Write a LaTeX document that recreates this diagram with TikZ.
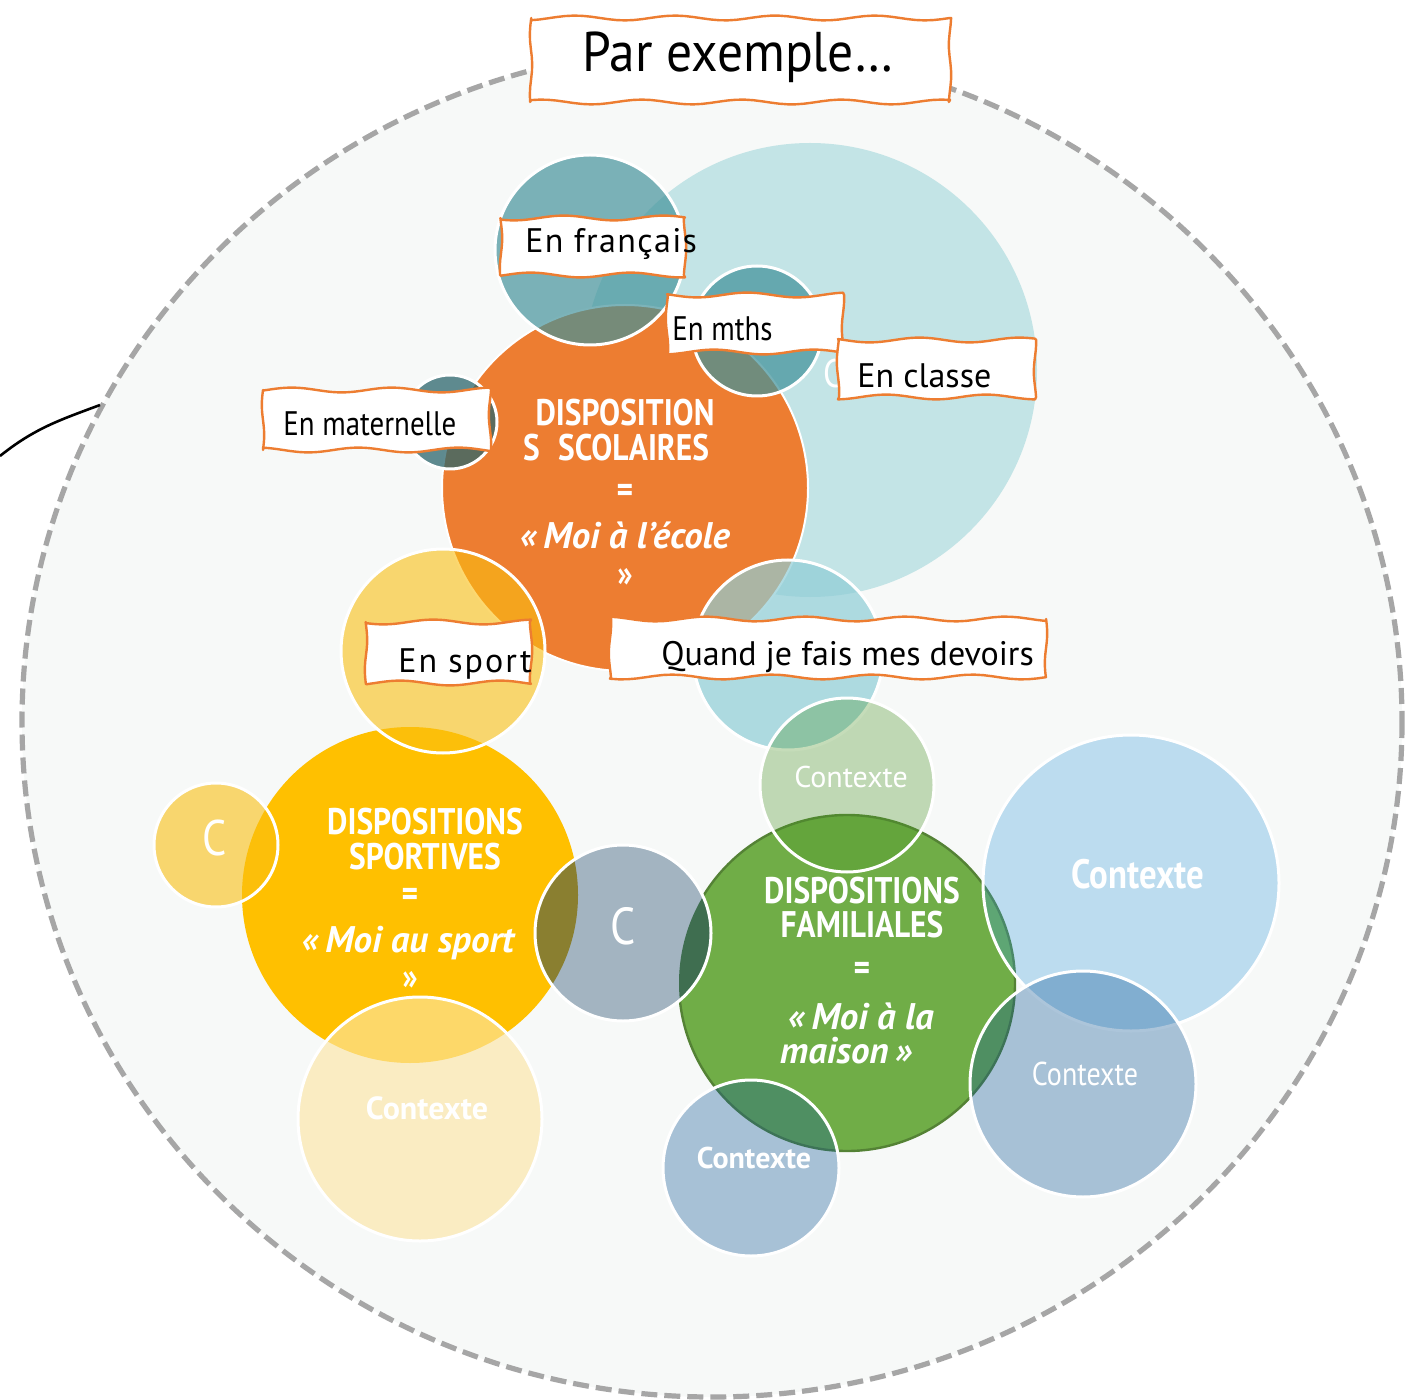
\documentclass[tikz,border=0pt]{standalone}
\usepackage{fontspec}
\setmainfont{PT Sans}
\newfontfamily\cf[FakeStretch=0.85]{PT Sans}
\newfontfamily\tf[FakeStretch=0.92]{PT Sans}
\definecolor{bgc}{HTML}{F7F9F8}
\definecolor{dashg}{HTML}{A6A6A6}
\definecolor{orangeC}{HTML}{ED7D31}
\definecolor{bigteal}{HTML}{C3E4E6}
\definecolor{tealc}{HTML}{42929A}
\definecolor{matc}{HTML}{2B656C}
\definecolor{sporty}{HTML}{FABF12}
\definecolor{devc}{HTML}{8FCDD6}
\definecolor{yellowC}{HTML}{FFC000}
\definecolor{grayC}{HTML}{A3B4C1}
\definecolor{greenC}{HTML}{70AD47}
\definecolor{greenD}{HTML}{548235}
\definecolor{oliveC}{HTML}{8A7F30}
\definecolor{dgreen}{HTML}{3F6E50}
\definecolor{lgreen}{HTML}{4B9527}
\definecolor{bblue}{HTML}{3599DD}
\definecolor{bgray}{HTML}{135997}
\definecolor{paley}{HTML}{FCE6A5}
% wavy box: x1 y1 x2 y2 phase
\newcommand{\wbox}[5]{%
  \path[wavy] plot[domain=#1:#3, samples=50] (\x,{#2+2.4*sin(3.6*\x+#5)})
    -- plot[domain=#2:#4, samples=12] ({#3+1.2*sin(6*\x+#5)},\x)
    -- plot[domain=#3:#1, samples=50] (\x,{#4+2.4*sin(3.6*\x+#5+120)})
    -- plot[domain=#4:#2, samples=12] ({#1+1.2*sin(6*\x+#5+60)},\x) -- cycle;}
\begin{document}
\begin{tikzpicture}[x=0.5pt,y=-0.5pt,
  bub/.style={draw=white, line width=1.5pt},
  wavy/.style={draw=orangeC, fill=white, line width=1.2pt, line join=round},
  main/.style={text=white, font=\cf\bfseries\fontsize{18.5}{20}\selectfont, anchor=base, inner sep=0pt},
  mainit/.style={text=white, font=\bfseries\itshape\fontsize{18.5}{20}\selectfont, anchor=base, inner sep=0pt},
  lbl/.style={text=black, font=\cf\fontsize{17}{19}\selectfont, anchor=base west, inner sep=0pt},
  lblw/.style={text=black, font=\fontsize{17}{19}\selectfont, anchor=base west, inner sep=0pt},
  ctx/.style={text=white, anchor=base, inner sep=0pt}]
\useasboundingbox (0,0) rectangle (1417,1400);
\fill[white] (0,0) rectangle (1417,1400);
% outer dashed ellipse
\draw[dashg, line width=2.6pt, dash pattern=on 8pt off 3.5pt, fill=bgc]
  (712,722) ellipse [x radius=690, y radius=675];
\coordinate (ls) at (0,456);
\coordinate (le) at (100,405);
\draw[black, line width=1.3pt] (ls) .. controls (35,428) and (60,420) .. (le);
% circles
\path[fill=bigteal] (810,370) circle (227);
\path[fill=orangeC, draw=white, line width=1pt] (625,488) circle (183);
\path[bub, fill=tealc, fill opacity=0.69] (590,250) circle (95);
\path[bub, fill=tealc, fill opacity=0.72] (757,331) circle (65);
\path[bub, fill=matc, fill opacity=0.75] (450,422) circle (47);
\path[bub, fill=devc, fill opacity=0.7] (788,655) circle (95);
\path[fill=yellowC] (410,895) circle (168);
\path[bub, fill=sporty, fill opacity=0.6] (443,651) circle (102);
\path[bub, fill=sporty, fill opacity=0.6] (216,845) circle (62);
\path[fill=greenC, draw=greenD, line width=1.2pt] (847,983) circle (168);
\path[fill=grayC] (623,933) circle (88);
\begin{scope}
  \clip (623,933) circle (88);
  \fill[oliveC] (410,895) circle (168);
  \fill[dgreen] (847,983) circle (168);
\end{scope}
\path[draw=white, line width=1.5pt] (623,933) circle (88);
\path[bub, fill=lgreen, fill opacity=0.32] (847,785) circle (87);
\path[bub, fill=bblue, fill opacity=0.3] (1131,883) circle (148);
\path[bub, fill=bgray, fill opacity=0.35] (1083,1084) circle (113);
\path[bub, fill=bgray, fill opacity=0.35] (751,1168) circle (88);
\path[bub, fill=paley, fill opacity=0.64] (420,1119) circle (122);
% circle texts
\node[main] (o1) at (625,426) {DISPOSITION};
\node[main] (o2) at (616,461) {S\hspace{0.5em}SCOLAIRES};
\node[main] (o3) at (625,503) {=};
\node[mainit] (o4) at (625,549) {«\,Moi à l’école};
\node[main] (o5) at (625,587) {»};
\node[main] (y1) at (425,834) {DISPOSITIONS};
\node[main] (y2) at (425,869) {SPORTIVES};
\node[main] (y3) at (410,906) {=};
\node[mainit] (y4) at (408,952) {«\,Moi au sport};
\node[main] (y5) at (410,989) {»};
\node[main] (g1) at (862,903) {DISPOSITIONS};
\node[main] (g2) at (862,937) {FAMILIALES};
\node[main] (g3) at (862,980) {=};
\node[mainit] (g4) at (861,1029) {«\,Moi à la};
\node[mainit] (g5) at (846,1063) {maison\,»};
\node[ctx, font=\cf\fontsize{25}{27}\selectfont] (c1) at (215,855) {C};
\node[ctx, font=\cf\fontsize{26}{28}\selectfont] (c2) at (623,944) {C};
\node[ctx, font=\fontsize{15}{17}\selectfont] (x1) at (851,787) {Contexte};
\node[ctx, font=\cf\bfseries\fontsize{20.5}{22}\selectfont] (x2) at (1138,888) {Contexte};
\node[ctx, font=\cf\fontsize{16.5}{18}\selectfont] (x3) at (1085,1085) {Contexte};
\node[ctx, font=\bfseries\fontsize{15}{17}\selectfont] (x4) at (754,1168) {Contexte};
\node[ctx, font=\bfseries\fontsize{16}{18}\selectfont] (x5) at (427,1119) {Contexte};
\node[ctx, font=\cf\fontsize{20}{22}\selectfont] (c3) at (833,388) {C};
% label boxes
\wbox{531}{18}{950}{102}{0}
\node[text=black, font=\tf\fontsize{28}{30}\selectfont, anchor=base, inner sep=0pt] (title) at (738,72) {Par exemple…};
\wbox{501}{218}{685}{275}{40}
\node[lblw, font=\addfontfeature{LetterSpace=4}\fontsize{17}{19}\selectfont] (l1) at (525,253) {En français};
\wbox{667}{295}{843}{352}{100}
\node[lbl] (l2) at (672,341) {En mths};
\wbox{838}{340}{1035}{397}{200}
\node[lblw] (l3) at (857,388) {En classe};
\wbox{263}{390}{490}{450}{300}
\node[lbl] (l4) at (283,436) {En maternelle};
\wbox{366}{622}{531}{683}{150}
\node[lblw, font=\addfontfeature{LetterSpace=6}\fontsize{17}{19}\selectfont] (l5) at (398,672) {En sport};
\wbox{610}{619}{1046}{677}{250}
\node[lblw] (l6) at (661,665) {Quand je fais mes devoirs};
\end{tikzpicture}
\end{document}
